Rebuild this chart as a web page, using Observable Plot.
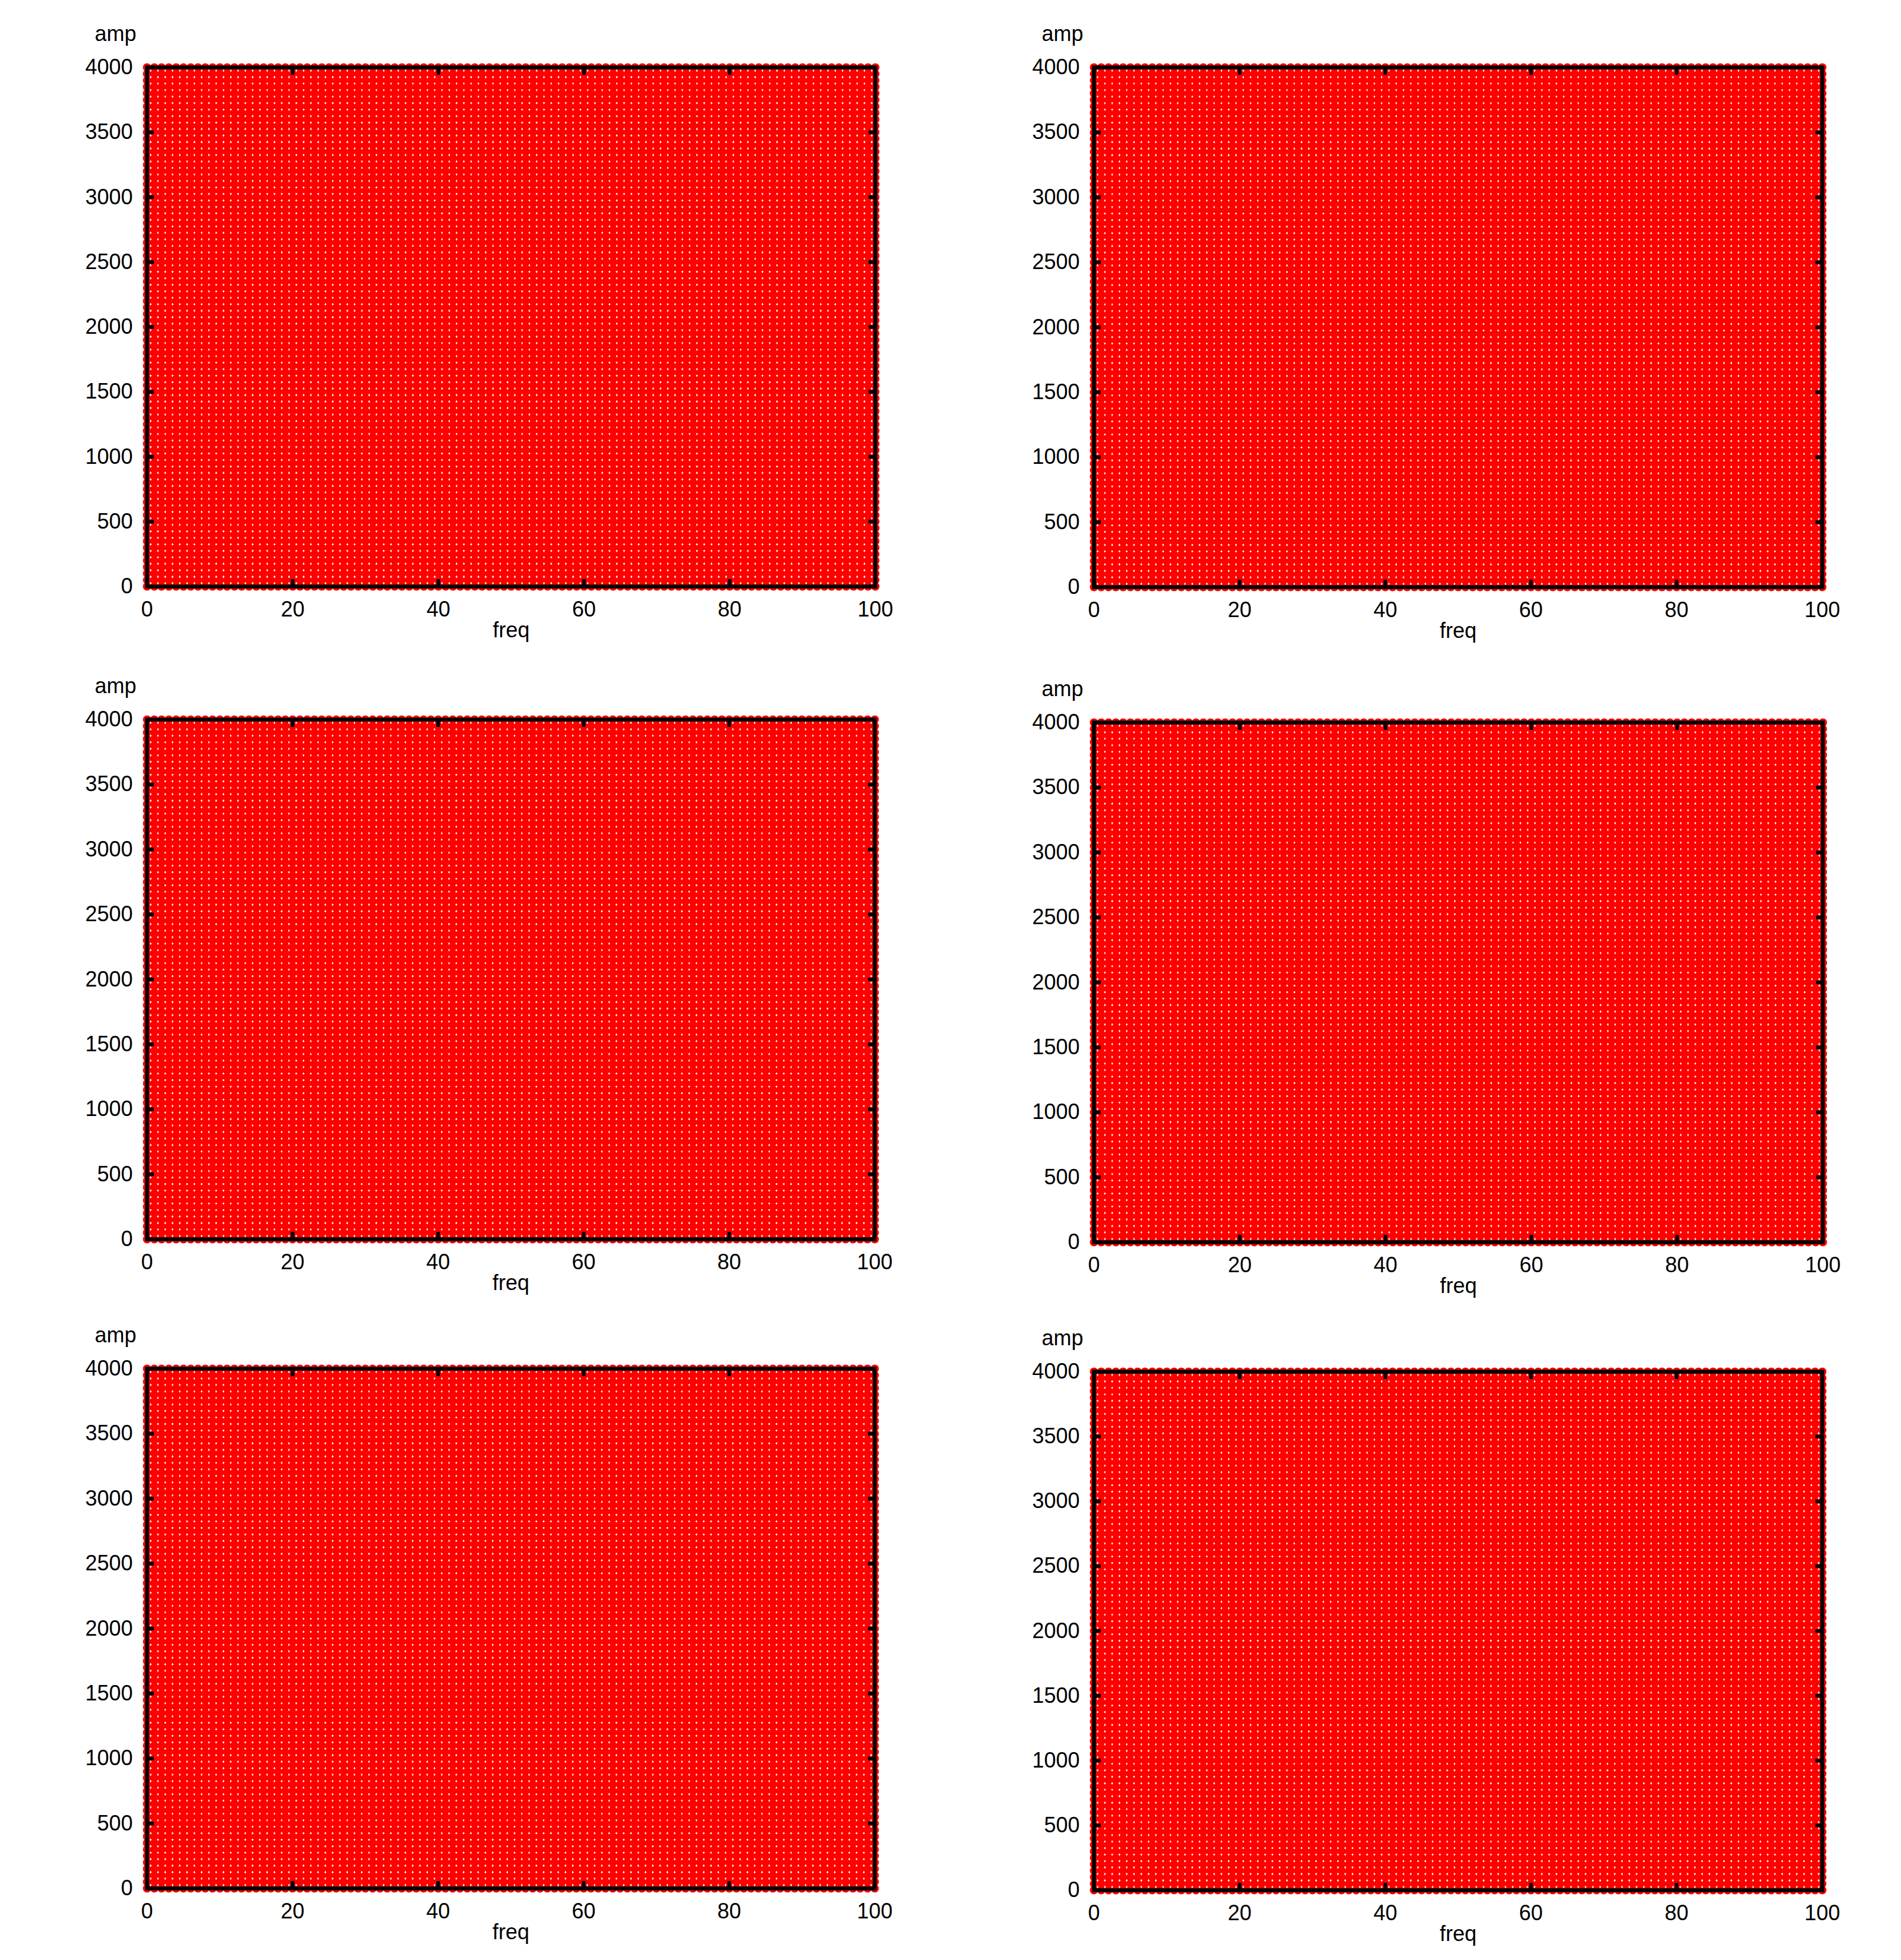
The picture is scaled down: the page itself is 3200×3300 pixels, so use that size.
<!DOCTYPE html>
<html><head><meta charset="utf-8">
<script src="https://cdn.jsdelivr.net/npm/d3@7"></script>
<script src="https://cdn.jsdelivr.net/npm/@observablehq/plot@0.6"></script>
<style>
html,body{margin:0;padding:0;background:#fff;}
#chart{position:relative;width:3200px;height:3300px;background:#fff;overflow:hidden;}
.panel{position:absolute;}
</style></head><body><div id="chart"></div>
<script>
// ---- data ----
const freqValues = [0,1,2,3,4,5,6,7,8,9,10,11,12,13,14,15,16,17,18,19,20,21,22,23,24,25,26,27,28,29,30,31,32,33,34,35,36,37,38,39,40,41,42,43,44,45,46,47,48,49,50,51,52,53,54,55,56,57,58,59,60,61,62,63,64,65,66,67,68,69,70,71,72,73,74,75,76,77,78,79,80,81,82,83,84,85,86,87,88,89,90,91,92,93,94,95,96,97,98,99,100];
const ampValues = [0,50,100,150,200,250,300,350,400,450,500,550,600,650,700,750,800,850,900,950,1000,1050,1100,1150,1200,1250,1300,1350,1400,1450,1500,1550,1600,1650,1700,1750,1800,1850,1900,1950,2000,2050,2100,2150,2200,2250,2300,2350,2400,2450,2500,2550,2600,2650,2700,2750,2800,2850,2900,2950,3000,3050,3100,3150,3200,3250,3300,3350,3400,3450,3500,3550,3600,3650,3700,3750,3800,3850,3900,3950,4000];
const xTicks = [0,20,40,60,80,100];
const yTicks = [0,500,1000,1500,2000,2500,3000,3500,4000];
const xLabel = "freq";
const yLabel = "amp";

// ---- layout (frame edges in page pixels) ----
const frames = [
  {l:247,  r:1473, t:113,  b:987},
  {l:1841, r:3067, t:113,  b:988},
  {l:247,  r:1472, t:1211, b:2086},
  {l:1841, r:3068, t:1216, b:2091},
  {l:247,  r:1472, t:2304, b:3179},
  {l:1841, r:3067, t:2309, b:3182}
];
const M = {left:160, right:50, top:90, bottom:110};

const grid = freqValues.flatMap(f => ampValues.map(a => ({freq: f, amp: a})));
const chart = document.getElementById("chart");

for (const fr of frames) {
  const w = fr.r - fr.l, h = fr.b - fr.t;
  const svg = Plot.plot({
    width: w + M.left + M.right,
    height: h + M.top + M.bottom,
    marginLeft: M.left, marginRight: M.right, marginTop: M.top, marginBottom: M.bottom,
    style: {fontFamily: "'Liberation Sans', Arial, Helvetica, sans-serif", fontSize: "36px", background: "transparent", color: "#000", overflow: "visible"},
    x: {domain: [0, 100]},
    y: {domain: [0, 4000]},
    marks: [
      Plot.dot(grid, {x: "freq", y: "amp", r: 7, fill: "#ff0000", stroke: "none"}),
      Plot.frame({stroke: "#000", strokeWidth: 6.5}),
      // inward ticks on all four sides
      Plot.axisX(xTicks, {anchor: "bottom", tickSize: -12, strokeWidth: 6, fill: "none", label: null}),
      Plot.axisX(xTicks, {anchor: "top", tickSize: -12, strokeWidth: 6, fill: "none", label: null}),
      Plot.axisY(yTicks, {anchor: "left", tickSize: -12, strokeWidth: 6, fill: "none", label: null}),
      Plot.axisY(yTicks, {anchor: "right", tickSize: -12, strokeWidth: 6, fill: "none", label: null}),
      // tick labels
      Plot.axisX(xTicks, {anchor: "bottom", tickSize: 0, tickPadding: 25, label: null, tickFormat: d => String(d)}),
      Plot.axisY(yTicks, {anchor: "left", tickSize: 0, tickPadding: 24, label: null, tickFormat: d => String(d)}),
      // axis titles
      Plot.text([yLabel], {frameAnchor: "top-left", dx: -18, dy: -45, textAnchor: "end", lineAnchor: "bottom", fill: "#000"}),
      Plot.text([xLabel], {frameAnchor: "bottom", dy: 85, lineAnchor: "bottom", fill: "#000"})
    ]
  });
  svg.classList.add("panel");
  svg.style.left = (fr.l - M.left) + "px";
  svg.style.top = (fr.t - M.top) + "px";
  chart.appendChild(svg);
}
</script>
</body></html>
